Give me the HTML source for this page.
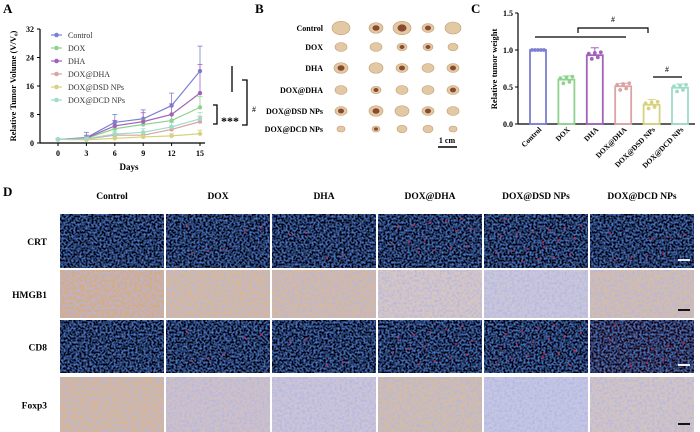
<!DOCTYPE html>
<html><head><meta charset="utf-8">
<style>
body{margin:0;background:#fff;}
svg{display:block;font-family:"Liberation Serif",serif;}
.b{font-weight:bold;}
</style></head>
<body>
<svg id="fig" width="700" height="432" viewBox="0 0 700 432" xmlns="http://www.w3.org/2000/svg">
<defs>
<filter id="fluo" x="0" y="0" width="1" height="1">
<feTurbulence type="fractalNoise" baseFrequency="0.5" numOctaves="2" seed="3" result="n"/>
<feColorMatrix in="n" type="matrix" values="0 0 0 0 0.08  0 0 0 0 0.2  0 0 0 0 0.62  0 0 0 2.6 -1.05" result="c"/>
<feComposite in="c" in2="SourceGraphic" operator="over"/>
</filter>
<filter id="ihc" x="0" y="0" width="1" height="1">
<feTurbulence type="fractalNoise" baseFrequency="0.4" numOctaves="2" seed="7" result="n"/>
<feColorMatrix in="n" type="matrix" values="0 0 0 0 0.42  0 0 0 0 0.47  0 0 0 0 0.78  0 0 0 2.4 -0.95" result="c"/>
<feComposite in="c" in2="SourceGraphic" operator="over"/>
</filter>
</defs>
<g class="b" font-size="13">
<text x="3" y="13">A</text>
<text x="255" y="13">B</text>
<text x="471" y="13">C</text>
<text x="3" y="196">D</text>
</g>
<g id="pa"></g>
<g id="pb"></g>
<g id="pc"></g>
<g id="pd"></g>
</svg>
<script>
const NS="http://www.w3.org/2000/svg";
// Panel A data
const days=[0,3,6,9,12,15];
const groups=["Control","DOX","DHA","DOX@DHA","DOX@DSD NPs","DOX@DCD NPs"];
const volControl=[1,1.5,5.8,6.8,10.5,20.2];
const volDOX=[1,1.3,4,5.2,6.3,10];
const volDHA=[1,1.4,4.8,6,8,14];
const volDOXDHA=[1,1.1,2.2,2.2,3.8,6];
const volDSD=[1,0.9,1.3,1.7,2,2.6];
const volDCD=[1,1.2,2.5,3,4.5,6.8];
const errControl=[0.3,1.5,2.2,2.5,3.5,7];
const errDOX=[0.2,0.6,1.2,1.5,1.8,3];
const errDHA=[0.2,0.8,1.5,2.5,3,8];
const errDOXDHA=[0.2,0.4,0.6,0.8,1,1.5];
const errDSD=[0.1,0.3,0.4,0.5,0.6,1];
const errDCD=[0.2,0.5,0.8,1,1.2,1.8];
const yTicksA=[0,8,16,24,32];
// Panel C data
const weightGroups=["Control","DOX","DHA","DOX@DHA","DOX@DSD NPs","DOX@DCD NPs"];
const weights=[1.0,0.6,0.93,0.51,0.26,0.49];
const weightErr=[0,0.05,0.1,0.04,0.07,0.05];
const yTicksC=[0,0.5,1.0,1.5];
// Panel D labels
const dCols=["Control","DOX","DHA","DOX@DHA","DOX@DSD NPs","DOX@DCD NPs"];
const dRows=["CRT","HMGB1","CD8","Foxp3"];

const colors=["#7b80d2","#8fd28f","#a262ba","#dba3a3","#d6d27f","#9fdcc8"];
function el(tag,attrs,parent,txt){const e=document.createElementNS(NS,tag);for(const k in attrs)e.setAttribute(k,attrs[k]);if(txt!==undefined)e.textContent=txt;parent.appendChild(e);return e;}

// ---- Panel A
const pa=document.getElementById('pa');
const xA=d=>58+(d/15)*142;
const yA=v=>143-(v/32)*114;
el('line',{x1:40,y1:29,x2:40,y2:143,stroke:'#000','stroke-width':1.2},pa);
el('line',{x1:40,y1:143,x2:205,y2:143,stroke:'#000','stroke-width':1.2},pa);
yTicksA.forEach(t=>{el('line',{x1:37,y1:yA(t),x2:40,y2:yA(t),stroke:'#000'},pa);
 const tx=el('text',{x:34,y:yA(t)+3,'font-size':8,'text-anchor':'end',class:'b'},pa,String(t));
 });
days.forEach(d=>{el('line',{x1:xA(d),y1:143,x2:xA(d),y2:146,stroke:'#000'},pa);
 const tx=el('text',{x:xA(d),y:156,'font-size':8,'text-anchor':'middle',class:'b'},pa,String(d));
 });
let t=el('text',{x:129,y:170,'font-size':9,'text-anchor':'middle',class:'b'},pa,'Days');

t=el('text',{x:0,y:0,'font-size':8.5,'text-anchor':'middle',class:'b',transform:'translate(16,86) rotate(-90)'},pa,'Relative Tumor Volume (V/V₀)');

const series=[volControl,volDOX,volDHA,volDOXDHA,volDSD,volDCD];
const errs=[errControl,errDOX,errDHA,errDOXDHA,errDSD,errDCD];
series.forEach((s,i)=>{
 const g=el('g',{},pa);
 
 
 s.forEach((v,j)=>{const e=errs[i][j];el('line',{x1:xA(days[j]),y1:yA(v),x2:xA(days[j]),y2:yA(v+e),stroke:colors[i],'stroke-width':0.8},g);
  el('line',{x1:xA(days[j])-2.5,y1:yA(v+e),x2:xA(days[j])+2.5,y2:yA(v+e),stroke:colors[i],'stroke-width':0.8},g);});
 el('polyline',{points:s.map((v,j)=>xA(days[j])+','+yA(v)).join(' '),fill:'none',stroke:colors[i],'stroke-width':1.2},g);
 s.forEach((v,j)=>{const p=el('circle',{cx:xA(days[j]),cy:yA(v),r:2.2,fill:colors[i]},g);
  });
 const ly=35+i*13;
 const lg=el('g',{},pa);
 
 el('line',{x1:51,y1:ly,x2:62,y2:ly,stroke:colors[i],'stroke-width':1.2},lg);
 el('circle',{cx:56.5,cy:ly,r:2.3,fill:colors[i]},lg);
 el('text',{x:68,y:ly+3,'font-size':8,fill:'#333'},lg,groups[i]);
});
el('line',{x1:232,y1:66,x2:232,y2:92,stroke:'#000','stroke-width':1.3},pa);
el('polyline',{points:'242,80 247,80 247,125 242,125',fill:'none',stroke:'#000','stroke-width':1.3},pa);
el('text',{x:252,y:112,'font-size':8},pa,'#');
el('polyline',{points:'213,105 217,105 217,124 213,124',fill:'none',stroke:'#000','stroke-width':1.3},pa);
el('text',{x:221,y:125,'font-size':12,class:'b'},pa,'***');

// ---- Panel B
const pb=document.getElementById('pb');
const bRowsY=[28,47,68,90,111,129];
const bColsX=[341,376,402,428,453];
const sizes=[[9,7,9,6,8],[6,6,5,5,5],[7,7,6,6,6],[6,5,6,6,6],[6,7,7,6,6],[4,4,5,5,4]];
const dark=[[0,1,1,1,0],[0,0,1,1,0],[1,0,1,0,1],[0,1,0,0,1],[1,1,0,1,0],[0,1,0,0,0]];
groups.forEach((g,i)=>{
 const tx=el('text',{x:323,y:bRowsY[i]+3,'font-size':8,'text-anchor':'end',class:'b'},pb,g);
 
 bColsX.forEach((x,j)=>{const r=sizes[i][j];
  const e=el('ellipse',{cx:x,cy:bRowsY[i],rx:r,ry:r*0.75,fill:'#e2c9a4',stroke:'#c09a70','stroke-width':0.6},pb);
  
  if(dark[i][j])el('ellipse',{cx:x,cy:bRowsY[i],rx:r*0.5,ry:r*0.4,fill:'#8a4a30'},pb);});
});
el('line',{x1:438,y1:147,x2:457,y2:147,stroke:'#000','stroke-width':1.5},pb);
t=el('text',{x:447,y:143,'font-size':8,'text-anchor':'middle',class:'b'},pb,'1 cm');


// ---- Panel C
const pc=document.getElementById('pc');
const yC=v=>124-(v/1.5)*111;
const xC=i=>538+i*28.4;
el('line',{x1:518,y1:13,x2:518,y2:124,stroke:'#000','stroke-width':1.2},pc);
el('line',{x1:518,y1:124,x2:695,y2:124,stroke:'#000','stroke-width':1.2},pc);
yTicksC.forEach(v=>{el('line',{x1:515,y1:yC(v),x2:518,y2:yC(v),stroke:'#000'},pc);
 const tx=el('text',{x:513,y:yC(v)+3,'font-size':8,'text-anchor':'end',class:'b'},pc,v.toFixed(1));
 });
t=el('text',{x:0,y:0,'font-size':8.5,'text-anchor':'middle',class:'b',transform:'translate(497,69) rotate(-90)'},pc,'Relative tumor weight');

weights.forEach((w,i)=>{
 const r=el('rect',{x:xC(i)-8,y:yC(w),width:16,height:124-yC(w),fill:'none',stroke:colors[i],'stroke-width':1.8},pc);
 
 el('line',{x1:xC(i),y1:yC(w),x2:xC(i),y2:yC(w+weightErr[i]),stroke:colors[i]},pc);
 el('line',{x1:xC(i)-4,y1:yC(w+weightErr[i]),x2:xC(i)+4,y2:yC(w+weightErr[i]),stroke:colors[i]},pc);
 [-6,-3,0,3,6].forEach((dx,k)=>{const jit=[0.02,-0.05,0.03,-0.03,0.04][k]*(i?1:0);
  el('circle',{cx:xC(i)+dx,cy:yC(w+jit),r:1.9,fill:colors[i]},pc);});
 const tx=el('text',{x:0,y:0,'font-size':7.5,'text-anchor':'end',class:'b',transform:`translate(${xC(i)+4},${130}) rotate(-45)`},pc,weightGroups[i]);
 
});
el('line',{x1:535,y1:37,x2:626,y2:37,stroke:'#000','stroke-width':1.3},pc);
el('polyline',{points:'578,33 578,28 648,28 648,33',fill:'none',stroke:'#000','stroke-width':1.2},pc);
el('text',{x:613,y:22,'font-size':8,'text-anchor':'middle'},pc,'#');
el('line',{x1:653,y1:77,x2:682,y2:77,stroke:'#000','stroke-width':1.3},pc);
el('text',{x:667,y:72,'font-size':8,'text-anchor':'middle'},pc,'#');

// ---- Panel D
const pd=document.getElementById('pd');
const colX=[60,166,272,378,484,590];
const rowY=[214,270,320,377];
const rowH=[54,48,53,55];
const ihcBase=[["#d4ac84","#d8b894","#d6b89c","#d8c6c0","#cbc6d8","#d4bca8"],["#d8b690","#d0c0c4","#cdc4d6","#d4bca4","#c6c6e2","#d4c4c0"]];
dCols.forEach((c,j)=>{
 const tx=el('text',{x:colX[j]+52,y:199,'font-size':9.5,'text-anchor':'middle',class:'b'},pd,c);
 
});
dRows.forEach((r,i)=>{
 const tx=el('text',{x:47,y:rowY[i]+rowH[i]/2+4,'font-size':9.5,'text-anchor':'end',class:'b'},pd,r);
 
 const fluo=(i===0||i===2);
 colX.forEach((x,j)=>{
  const bg=fluo?(i===2&&j===5?'#1a0508':'#03050f'):ihcBase[i===1?0:1][j];
  const rc=el('rect',{x:x,y:rowY[i],width:104,height:rowH[i],fill:bg,filter:fluo?'url(#fluo)':'url(#ihc)'},pd);
  
  if(fluo&&j>0){const n=[0,6,4,14,18,8][j];
   for(let k=0;k<n;k++){el('circle',{cx:x+8+((k*37+j*13)%90),cy:rowY[i]+5+((k*23+j*7)%(rowH[i]-10)),r:1,fill:'#e02040'},pd);}}
 });
 el('line',{x1:678,y1:rowY[i]+rowH[i]-8,x2:690,y2:rowY[i]+rowH[i]-8,stroke:fluo?'#fff':'#000','stroke-width':1.8},pd);
});
</script>
</body></html>
